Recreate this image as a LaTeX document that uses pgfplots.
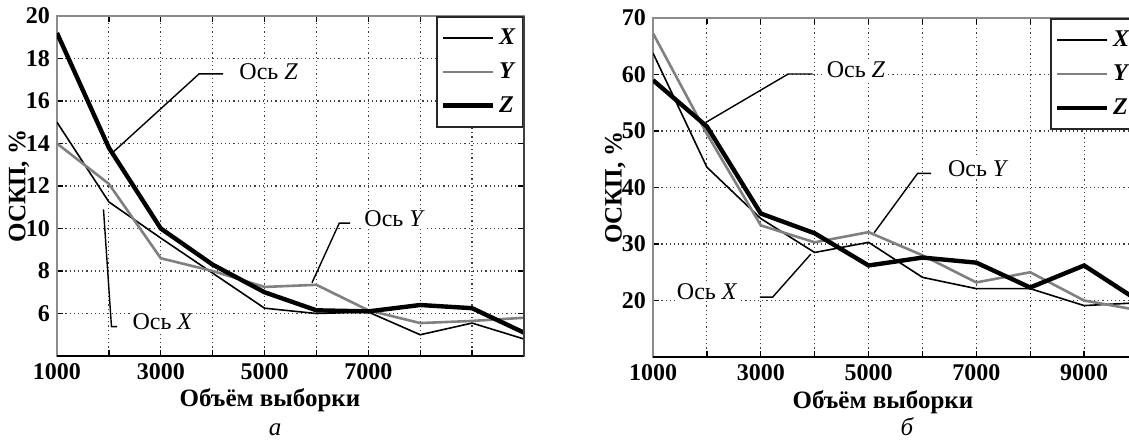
\documentclass[border=0pt]{standalone}
\usepackage{fontspec}
\setmainfont{Liberation Serif}
\usepackage{pgfplots}
\pgfplotsset{compat=1.18}

\tikzset{
  sx/.style={black, line width=0.8pt},
  sy/.style={black!50, line width=1.3pt},
  sz/.style={black, line width=2.2pt},
  lead/.style={black, line width=0.7pt},
  note/.style={anchor=west, fill=white, inner sep=1pt, font=\fontsize{12}{12}\selectfont},
}
\pgfplotsset{
  matstyle/.style={
    scale only axis,
    xmin=1000, xmax=10000,
    xtick={1000,2000,...,10000},
    scaled x ticks=false,
    grid=major,
    major grid style={dash pattern=on 0.6pt off 1.5pt, black!75, line width=0.6pt},
    axis line style={black!45, line width=0.9pt},
    tick style={black, line width=0.7pt},
    tick align=inside,
    major tick length=3pt,
    /pgf/number format/assume math mode=true,
    tick label style={font=\fontsize{12}{12}\selectfont\bfseries},
    label style={font=\fontsize{12.5}{12.5}\selectfont\bfseries},
    xlabel={Объём выборки},
    ylabel={ОСКП, \%},
    legend style={at={(rel axis cs:1,1)}, anchor=north east, draw=black!85,
      line width=0.9pt, fill=white, row sep=3.5pt, inner xsep=2pt, inner ysep=4pt,
      font=\fontsize{12}{12}\selectfont\bfseries\itshape},
    legend cell align=left,
    legend image code/.code={\draw[##1] (0pt,0pt) -- (25pt,0pt);},
  },
}

\begin{document}
\begin{tikzpicture}
\begin{axis}[matstyle, name=L,
  at={(28.5pt,42.5pt)}, anchor=south west, width=233.5pt, height=170pt,
  ymin=4, ymax=20, ytick={6,8,...,20},
  xticklabels={1000,,3000,,5000,,7000,,,},
  xlabel style={at={(axis description cs:0.456,-0.129)}, anchor=center},
  ylabel style={at={(axis description cs:-0.0814,0.5)}, anchor=center},
]
\addplot[sx] coordinates {(1000,15.0) (2000,11.25) (3000,9.55) (4000,7.9) (5000,6.25) (6000,6.0) (7000,6.07) (8000,5.0) (9000,5.55) (10000,4.8)};
\addlegendentry{X}
\addplot[sy] coordinates {(1000,14.0) (2000,12.1) (3000,8.6) (4000,8.0) (5000,7.25) (6000,7.35) (7000,6.15) (8000,5.55) (9000,5.65) (10000,5.8)};
\addlegendentry{Y}
\addplot[sz] coordinates {(1000,19.2) (2000,13.8) (3000,10.0) (4000,8.3) (5000,7.0) (6000,6.15) (7000,6.1) (8000,6.4) (9000,6.25) (10000,5.1)};
\addlegendentry{Z}
\draw[lead] (axis cs:4200,17.28) -- (axis cs:3740,17.28) -- (axis cs:2085,13.6);
\node[note] at (axis cs:4470,17.4) {Ось \textit{Z}};
\draw[lead] (axis cs:6650,10.25) -- (axis cs:6440,10.25) -- (axis cs:5915,7.45);
\node[note] at (axis cs:6880,10.45) {Ось \textit{Y}};
\draw[lead] (axis cs:1896,10.9) -- (axis cs:2050,5.38) -- (axis cs:2160,5.38);
\node[note] at (axis cs:2410,5.6) {Ось \textit{X}};
\end{axis}

\begin{axis}[matstyle, name=R,
  at={(326.5pt,42pt)}, anchor=south west, width=242.5pt, height=169.5pt,
  ymin=10, ymax=70, ytick={20,30,...,70},
  xticklabels={1000,,3000,,5000,,7000,,9000,},
  xlabel style={at={(axis description cs:0.474,-0.133)}, anchor=center},
  ylabel style={at={(axis description cs:-0.078,0.5)}, anchor=center},
]
\addplot[sx] coordinates {(1000,63.8) (2000,43.6) (3000,34.5) (4000,28.5) (5000,30.3) (6000,24.1) (7000,22.1) (8000,22.1) (9000,19.1) (10000,19.6)};
\addlegendentry{X}
\addplot[sy] coordinates {(1000,67.3) (2000,49.5) (3000,33.3) (4000,30.3) (5000,32.1) (6000,28.0) (7000,23.2) (8000,25.0) (9000,20.0) (10000,18.3)};
\addlegendentry{Y}
\addplot[sz] coordinates {(1000,59.0) (2000,50.8) (3000,35.4) (4000,31.9) (5000,26.2) (6000,27.6) (7000,26.7) (8000,22.3) (9000,26.2) (10000,20.0)};
\addlegendentry{Z}
\draw[lead] (axis cs:3960,60.1) -- (axis cs:3510,60.1) -- (axis cs:1976,51.5);
\node[note] at (axis cs:4180,60.8) {Ось \textit{Z}};
\draw[lead] (axis cs:6160,42.5) -- (axis cs:5910,42.5) -- (axis cs:5105,32.0);
\node[note] at (axis cs:6430,43.4) {Ось \textit{Y}};
\draw[lead] (axis cs:2985,20.6) -- (axis cs:3221,20.6) -- (axis cs:3927,28.2);
\node[note] at (axis cs:1400,21.65) {Ось \textit{X}};
\end{axis}

\draw[black, line width=1pt] (L.south west) -- (L.south east);
\draw[black!75, line width=0.9pt] (L.south east) -- (L.north east);
\draw[black, line width=1pt] (R.south west) -- (R.south east);
\node[anchor=base, inner sep=0pt, font=\fontsize{12.5}{12.5}\selectfont\itshape] at (137.5pt,3pt) {а};
\node[anchor=base, inner sep=0pt, font=\fontsize{12.5}{12.5}\selectfont\itshape] at (453.5pt,3pt) {б};

\pgfresetboundingbox
\useasboundingbox (0,0) rectangle (564.5pt,220.5pt);
\end{tikzpicture}
\end{document}
